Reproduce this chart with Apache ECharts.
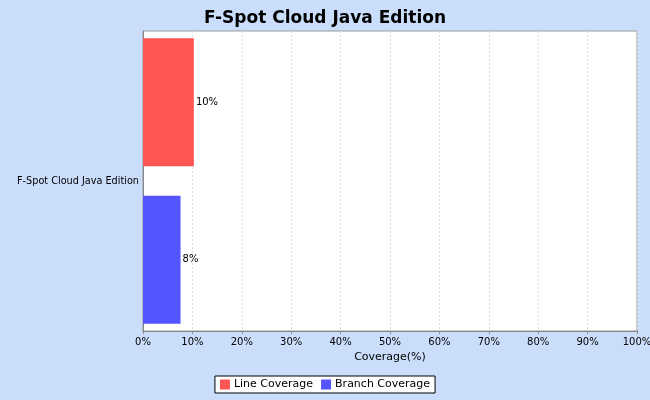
<!DOCTYPE html>
<html>
<head>
<meta charset="utf-8">
<script src="https://cdn.jsdelivr.net/npm/echarts@6/dist/echarts.min.js"></script>
<style>
  html, body { margin: 0; padding: 0; background: #cadefc; }
  #container { width: 650px; height: 400px; }
</style>
</head>
<body>
<div id="container"></div>
<script>
var categories = ['F-Spot Cloud Java Edition'];
var seriesNames = ['Line Coverage', 'Branch Coverage'];
var lineCoverage = [10.3];
var branchCoverage = [7.6];
var colors = ['#ff5555', '#5555ff'];

var dom = document.getElementById('container');
var myChart = echarts.init(dom, null, { renderer: 'canvas' });

var labelOpt = {
    show: true,
    position: 'right',
    distance: 2,
    color: '#000',
    fontFamily: 'DejaVu Sans',
    fontSize: 10,
    formatter: p => Math.round(p.value) + '%'
};

var option = {
    backgroundColor: '#cadefc',
    animation: false,
    title: {
        text: 'F-Spot Cloud Java Edition',
        left: 'center',
        top: 5,
        textStyle: { fontFamily: 'DejaVu Sans', fontWeight: 'bold', fontSize: 17, color: '#000' }
    },
    legend: {
        bottom: 7,
        left: 'center',
        data: seriesNames,
        backgroundColor: '#fff',
        borderColor: '#000',
        borderWidth: 1,
        borderRadius: 0,
        padding: [3, 5],
        itemGap: 8,
        itemWidth: 10,
        itemHeight: 10,
        icon: 'rect',
        textStyle: { fontFamily: 'DejaVu Sans', fontSize: 11, color: '#000', padding: [0, 0, 0, -1] }
    },
    grid: {
        left: 143, right: 13, top: 31, bottom: 69,
        outerBoundsMode: 'none',
        containLabel: false,
        show: true,
        backgroundColor: '#fff',
        borderColor: '#999',
        borderWidth: 1
    },
    xAxis: {
        type: 'value',
        min: 0,
        max: 100,
        interval: 10,
        name: 'Coverage(%)',
        nameLocation: 'middle',
        nameGap: 20,
        nameTextStyle: { fontFamily: 'DejaVu Sans', fontSize: 11, color: '#000' },
        axisLine: { show: true, lineStyle: { color: '#888' } },
        axisTick: { show: true, length: 3, lineStyle: { color: '#888' } },
        axisLabel: { formatter: '{value}%', fontFamily: 'DejaVu Sans', fontSize: 10, color: '#000', margin: 6 },
        splitLine: { show: true, lineStyle: { color: '#ddd', type: [2, 2] } }
    },
    yAxis: {
        type: 'category',
        data: categories,
        inverse: true,
        axisLine: { show: true, lineStyle: { color: '#888' } },
        axisTick: { show: false },
        axisLabel: { fontFamily: 'DejaVu Sans', fontSize: 9.7, color: '#000', margin: 4 }
    },
    series: [
        {
            name: seriesNames[0],
            type: 'bar',
            data: lineCoverage,
            barWidth: 128,
            barGap: '23%',
            itemStyle: { color: colors[0] },
            label: labelOpt
        },
        {
            name: seriesNames[1],
            type: 'bar',
            data: branchCoverage,
            barWidth: 128,
            barGap: '23%',
            itemStyle: { color: colors[1] },
            label: labelOpt
        }
    ]
};

myChart.setOption(option);
window.addEventListener('resize', myChart.resize);
</script>
</body>
</html>
